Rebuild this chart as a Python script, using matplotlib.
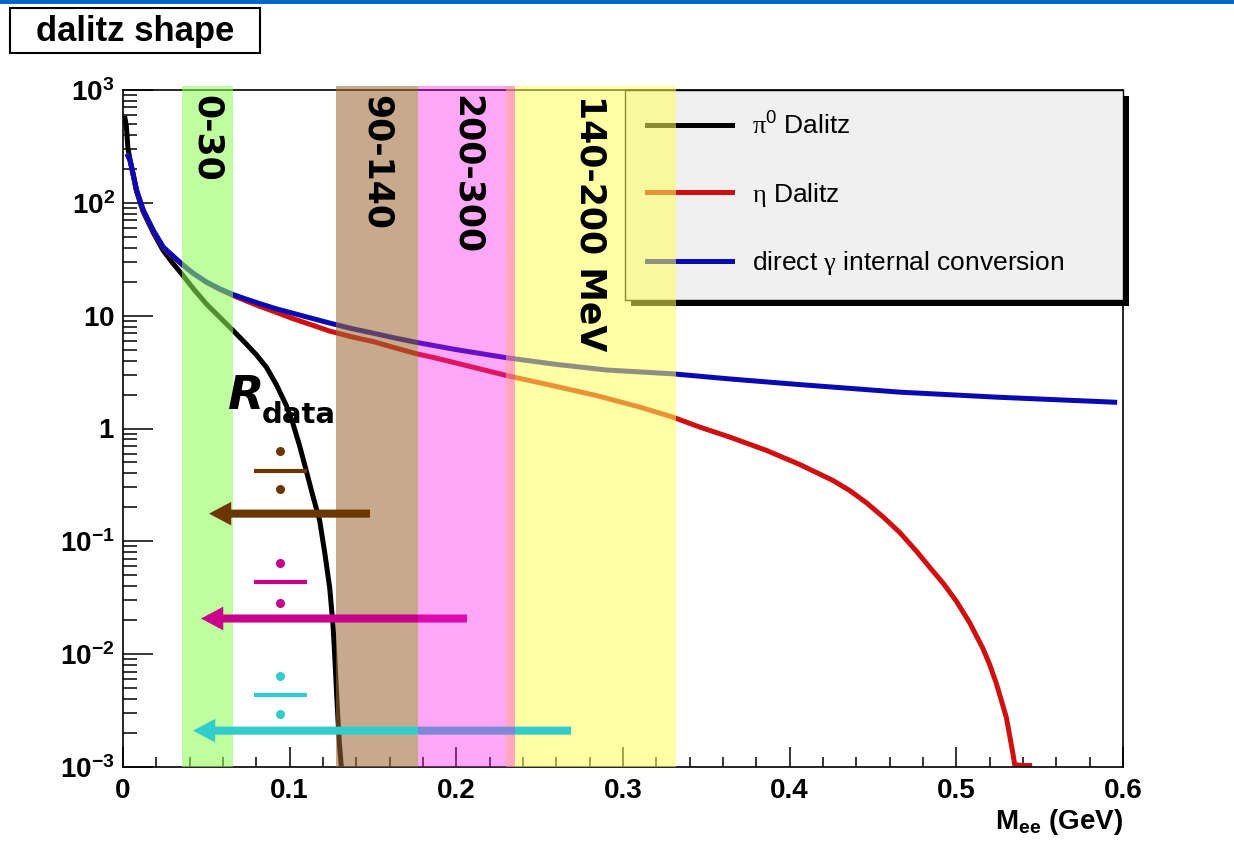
import matplotlib
matplotlib.use("Agg")
import matplotlib.pyplot as plt
from matplotlib.patches import Rectangle
from matplotlib.ticker import LogLocator, MultipleLocator, NullFormatter

plt.rcParams['font.family'] = ['Liberation Sans', 'DejaVu Sans']
plt.rcParams['mathtext.fontset'] = 'custom'
plt.rcParams['mathtext.rm'] = 'Liberation Serif'
plt.rcParams['mathtext.bf'] = 'Liberation Sans:bold'
plt.rcParams['mathtext.sf'] = 'Liberation Sans'
plt.rcParams['mathtext.it'] = 'Liberation Sans:italic'

# ---- spectra: dN/dMee (arb. units) vs Mee (GeV) ----
pi0_x = [0.0012, 0.002, 0.003, 0.0045, 0.006, 0.008, 0.012, 0.018, 0.024, 0.030,
         0.0352, 0.042, 0.050, 0.058, 0.066, 0.074, 0.080, 0.086, 0.092, 0.098,
         0.102, 0.106, 0.110, 0.114, 0.118, 0.121, 0.124, 0.126, 0.127, 0.128,
         0.129, 0.130, 0.131]
pi0_y = [560, 480, 300, 230, 180, 128, 84, 55, 38, 29,
         23.5, 17.5, 12.7, 9.7, 7.4, 5.6, 4.5, 3.5, 2.45, 1.6,
         1.1, 0.7, 0.42, 0.25, 0.153, 0.08, 0.039, 0.018, 0.010, 0.005,
         0.0026, 0.0015, 0.001]

eta_x = [0.003, 0.0042, 0.0052, 0.0082, 0.0122, 0.0182, 0.0242, 0.0352, 0.042,
         0.050, 0.058, 0.066, 0.074, 0.082, 0.092, 0.102, 0.113, 0.124, 0.137,
         0.150, 0.163, 0.176, 0.188, 0.200, 0.215, 0.230, 0.255, 0.284, 0.310,
         0.330, 0.346, 0.364, 0.386, 0.406, 0.426, 0.436, 0.446, 0.456, 0.466,
         0.476, 0.484, 0.492, 0.500, 0.508, 0.516, 0.520, 0.524, 0.527, 0.530,
         0.532, 0.534, 0.535, 0.540, 0.544]
eta_y = [260, 238, 205, 128, 85, 56, 40, 28.5, 23.8,
         19.8, 17.1, 15.1, 13.5, 12.1, 10.7, 9.4, 8.3, 7.3, 6.5,
         5.9, 5.2, 4.6, 4.2, 3.8, 3.35, 2.95, 2.45, 1.96, 1.55,
         1.26, 1.03, 0.84, 0.64, 0.48, 0.346, 0.282, 0.22, 0.165, 0.12,
         0.082, 0.0589, 0.0427, 0.0295, 0.019, 0.0112, 0.0081, 0.0055, 0.0039, 0.00275,
         0.0019, 0.0013, 0.00105, 0.00103, 0.00103]

gam_x = [0.003, 0.0042, 0.0052, 0.0082, 0.0122, 0.0182, 0.0242, 0.0352, 0.042,
         0.050, 0.058, 0.066, 0.074, 0.082, 0.092, 0.102, 0.113, 0.124, 0.137,
         0.150, 0.163, 0.176, 0.200, 0.230, 0.260, 0.290, 0.330, 0.364, 0.406,
         0.466, 0.526, 0.595]
gam_y = [260, 238, 207, 129, 86, 57, 40.5, 28.8, 23.8,
         19.9, 17.3, 15.4, 14.0, 12.8, 11.5, 10.5, 9.5, 8.6, 7.7,
         7.0, 6.35, 5.8, 5.0, 4.24, 3.7, 3.3, 3.05, 2.75, 2.45,
         2.1, 1.89, 1.71]

series_labels = [r'$\mathrm{\pi}^{\mathsf{0}}$ Dalitz', r'$\mathrm{\eta}$ Dalitz',
                 r'direct $\mathrm{\gamma}$ internal conversion']

# ---- mass windows (GeV) ----
band_lo = [0.0352, 0.1278, 0.1768, 0.2296]
band_hi = [0.0658, 0.1768, 0.2352, 0.3316]
band_text = ['0-30', '90-140', '200-300', '140-200 MeV']

# ---- axis ticks ----
xtick_vals = [0, 0.1, 0.2, 0.3, 0.4, 0.5, 0.6]
xtick_labels = ['0', '0.1', '0.2', '0.3', '0.4', '0.5', '0.6']
ytick_vals = [1e-3, 1e-2, 1e-1, 1, 10, 100, 1000]
ytick_labels = [r'$\mathbf{10^{-3}}$', r'$\mathbf{10^{-2}}$', r'$\mathbf{10^{-1}}$',
                r'$\mathbf{1}$', r'$\mathbf{10}$', r'$\mathbf{10^{2}}$', r'$\mathbf{10^{3}}$']

# ---- ratio arrows: (tail x, tip x, y) ----
arrow_tail = [0.1482, 0.2064, 0.2688]
arrow_tip = [0.0516, 0.0468, 0.0420]
arrow_y = [0.176, 0.0207, 0.0021]
arrow_col = ['#6b3600', '#c8008c', '#33cccc']
# division signs: upper dot, bar, lower dot
div_top = [0.638, 0.0637, 0.00645]
div_bar = [0.424, 0.0433, 0.00432]
div_bot = [0.288, 0.0287, 0.00292]

fig = plt.figure(figsize=(12.34, 8.49), dpi=100)
fig.patch.set_facecolor('white')

# blue strip along the top of the page
fig.patches.append(Rectangle((0, 1 - 4 / 849), 1, 4 / 849, transform=fig.transFigure,
                             facecolor='#0066cc', edgecolor='none'))
# title box
fig.patches.append(Rectangle((10 / 1234, 1 - 53 / 849), 250 / 1234, 45 / 849,
                             transform=fig.transFigure, fill=False,
                             edgecolor='black', lw=1.5))
fig.text(135 / 1234, 1 - 31 / 849, 'dalitz shape', ha='center', va='center',
         fontsize=25, fontweight='bold', family='Liberation Sans')

ax = fig.add_axes([123 / 1234, 82 / 849, 1000 / 1234, 677 / 849])
ax.set_yscale('log')
ax.set_xlim(0, 0.6)
ax.set_ylim(1e-3, 1e3)

ax.plot(pi0_x, pi0_y, color='black', lw=3.6, zorder=2, label=series_labels[0])
ax.plot(eta_x, eta_y, color='#d01010', lw=3.6, zorder=2.1, label=series_labels[1])
ax.plot(gam_x, gam_y, color='#0a0ab4', lw=3.6, zorder=2.2, label=series_labels[2])

band_col = ['#8fff55', '#9e6935', '#ff18ec', '#ffff5a']
band_alpha = [0.56, 0.57, 0.38, 0.55]
band_z = [3.0, 3.0, 4.5, 3.6]
for lo, hi, c, a, z in zip(band_lo, band_hi, band_col, band_alpha, band_z):
    sp = ax.axvspan(lo, hi, ymin=0, ymax=1.006, facecolor=c, alpha=a,
                    edgecolor='none', zorder=z)
    sp.set_clip_on(False)
for lo, hi, t in zip(band_lo, band_hi, band_text):
    ax.text((lo + hi) / 2, 0.993, t, transform=ax.get_xaxis_transform(),
            rotation=-90, ha='center', va='top', fontsize=25,
            fontweight='bold', family='DejaVu Sans', zorder=7)

# R_data with ratio arrows
ax.text(0.063, 1.50, 'R', fontsize=34, fontweight='bold', style='italic',
        family='DejaVu Sans', va='baseline', ha='left', zorder=7)
ax.text(0.0834, 1.13, 'data', fontsize=21, fontweight='bold',
        family='DejaVu Sans', va='baseline', ha='left', zorder=7)
for tl, tp, y, c, d1, d2, d3 in zip(arrow_tail, arrow_tip, arrow_y, arrow_col,
                                    div_top, div_bar, div_bot):
    ax.annotate('', xy=(tp, y), xytext=(tl, y),
                arrowprops=dict(arrowstyle='simple,head_length=16,head_width=17,tail_width=5.8',
                                mutation_scale=1, facecolor=c, edgecolor='none',
                                shrinkA=0, shrinkB=0),
                zorder=4)
    ax.plot([0.0942, 0.0942], [d1, d3], ls='none', marker='o', ms=6.5,
            color=c, mec='none', zorder=4)
    ax.plot([0.0786, 0.1104], [d2, d2], color=c, lw=3, solid_capstyle='butt', zorder=4)

# legend with a hard drop shadow
leg = ax.legend(loc='upper left', bbox_to_anchor=(0.502, 0.69, 0.498, 0.31),
                mode='expand', borderaxespad=0, fontsize=19, frameon=True,
                fancybox=False, framealpha=1, facecolor='#f0f0f0',
                edgecolor='black', borderpad=0.85, labelspacing=1.55,
                handlelength=3.2, handletextpad=0.75)
leg.get_frame().set_linewidth(1.0)
leg.set_zorder(3.5)

# axes styling
for s in ax.spines.values():
    s.set_linewidth(1.2)
ax.set_xticks(xtick_vals, xtick_labels)
ax.xaxis.set_minor_locator(MultipleLocator(0.02))
ax.set_yticks(ytick_vals, ytick_labels)
ax.yaxis.set_minor_locator(LogLocator(base=10, subs=range(2, 10), numticks=20))
ax.yaxis.set_minor_formatter(NullFormatter())
ax.tick_params(which='both', direction='in', width=1.1, top=False, right=False)
ax.tick_params(axis='x', which='major', length=14.4, pad=8, labelsize=20)
ax.tick_params(axis='x', which='minor', length=7.2)
ax.tick_params(axis='y', which='major', length=21.6, pad=6, labelsize=20)
ax.tick_params(axis='y', which='minor', length=10)
for lab in ax.get_xticklabels():
    lab.set_fontweight('bold')
ax.set_xlabel(r'$\mathbf{M_{ee}}$ $\mathbf{(GeV)}$', loc='right', fontsize=20, labelpad=2)

fig.canvas.draw()
bb = leg.get_window_extent()
inv = ax.transAxes.inverted()
(x0, y0), (x1, y1) = inv.transform([(bb.x0 + 6, bb.y0 - 6), (bb.x1 + 6, bb.y1 - 6)])
shadow = Rectangle((x0, y0), x1 - x0, y1 - y0, transform=ax.transAxes,
                   facecolor='black', edgecolor='none', zorder=3.4, clip_on=False)
ax.add_patch(shadow)

fig.savefig('out.png', dpi=100)
